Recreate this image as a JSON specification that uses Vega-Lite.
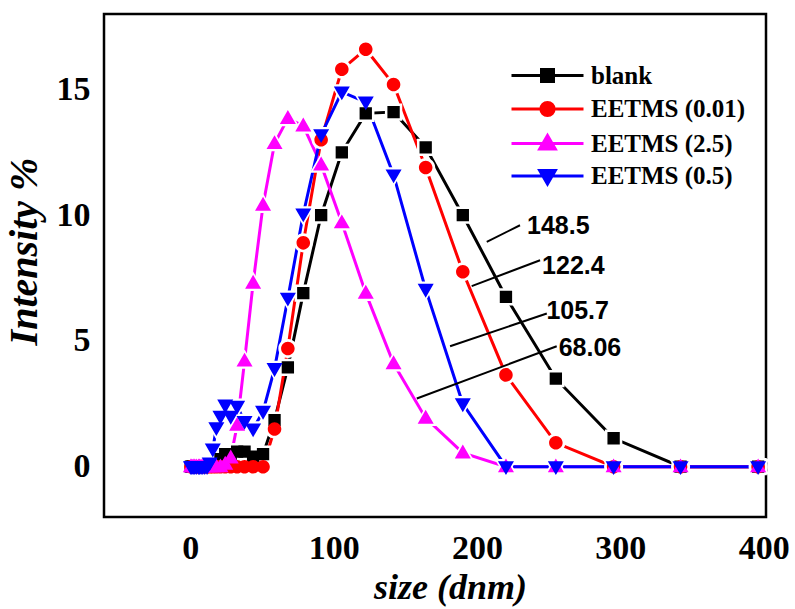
{
  "$schema": "https://vega.github.io/schema/vega-lite/v6.json",
  "width": 662,
  "height": 503,
  "autosize": "none",
  "padding": {"left": 104, "top": 14, "right": 29, "bottom": 92},
  "background": "white",
  "config": {
    "view": {"stroke": "black", "strokeWidth": 2.5},
    "axis": {"grid": false, "ticks": false, "domain": false, "labelColor": "black", "titleColor": "black"},
    "legend": {
      "orient": "none", "legendX": 431, "legendY": 49, "padding": 0,
      "labelFont": "Liberation Serif", "labelFontWeight": "bold", "labelFontSize": 25, "labelColor": "black",
      "labelLimit": 400, "labelOffset": 31, "rowPadding": 6.5, "symbolSize": 144, "symbolStrokeWidth": 3, "symbolOpacity": 1
    }
  },
  "datasets": {
    "dls": [
      {"series": "blank", "size": 0.4, "intensity": 0},
      {"series": "blank", "size": 1.117, "intensity": 0},
      {"series": "blank", "size": 2.01, "intensity": 0},
      {"series": "blank", "size": 3.122, "intensity": 0},
      {"series": "blank", "size": 4.187, "intensity": 0},
      {"series": "blank", "size": 5.615, "intensity": 0},
      {"series": "blank", "size": 6.503, "intensity": 0},
      {"series": "blank", "size": 7.531, "intensity": 0},
      {"series": "blank", "size": 8.721, "intensity": 0},
      {"series": "blank", "size": 10.1, "intensity": 0},
      {"series": "blank", "size": 11.7, "intensity": 0},
      {"series": "blank", "size": 13.54, "intensity": 0},
      {"series": "blank", "size": 15.69, "intensity": 0},
      {"series": "blank", "size": 18.17, "intensity": 0.1},
      {"series": "blank", "size": 21.04, "intensity": 0.3},
      {"series": "blank", "size": 24.36, "intensity": 0.5},
      {"series": "blank", "size": 28.21, "intensity": 0.4},
      {"series": "blank", "size": 32.67, "intensity": 0.6},
      {"series": "blank", "size": 37.84, "intensity": 0.6},
      {"series": "blank", "size": 43.82, "intensity": 0.4},
      {"series": "blank", "size": 50.75, "intensity": 0.5},
      {"series": "blank", "size": 58.77, "intensity": 1.85},
      {"series": "blank", "size": 68.06, "intensity": 3.95},
      {"series": "blank", "size": 78.82, "intensity": 6.9},
      {"series": "blank", "size": 91.28, "intensity": 10.0},
      {"series": "blank", "size": 105.7, "intensity": 12.5},
      {"series": "blank", "size": 122.4, "intensity": 14.05},
      {"series": "blank", "size": 141.8, "intensity": 14.1},
      {"series": "blank", "size": 164.2, "intensity": 12.7},
      {"series": "blank", "size": 190.1, "intensity": 10.0},
      {"series": "blank", "size": 220.2, "intensity": 6.75},
      {"series": "blank", "size": 255, "intensity": 3.5},
      {"series": "blank", "size": 295.3, "intensity": 1.13},
      {"series": "blank", "size": 342, "intensity": 0},
      {"series": "blank", "size": 396.1, "intensity": 0},

      {"series": "EETMS (0.01)", "size": 0.4, "intensity": 0},
      {"series": "EETMS (0.01)", "size": 1.117, "intensity": 0},
      {"series": "EETMS (0.01)", "size": 2.01, "intensity": 0},
      {"series": "EETMS (0.01)", "size": 3.122, "intensity": 0},
      {"series": "EETMS (0.01)", "size": 4.187, "intensity": 0},
      {"series": "EETMS (0.01)", "size": 5.615, "intensity": 0},
      {"series": "EETMS (0.01)", "size": 6.503, "intensity": 0},
      {"series": "EETMS (0.01)", "size": 7.531, "intensity": 0},
      {"series": "EETMS (0.01)", "size": 8.721, "intensity": 0},
      {"series": "EETMS (0.01)", "size": 10.1, "intensity": 0},
      {"series": "EETMS (0.01)", "size": 11.7, "intensity": 0},
      {"series": "EETMS (0.01)", "size": 13.54, "intensity": 0},
      {"series": "EETMS (0.01)", "size": 15.69, "intensity": 0},
      {"series": "EETMS (0.01)", "size": 18.17, "intensity": 0},
      {"series": "EETMS (0.01)", "size": 21.04, "intensity": 0},
      {"series": "EETMS (0.01)", "size": 24.36, "intensity": 0},
      {"series": "EETMS (0.01)", "size": 28.21, "intensity": 0},
      {"series": "EETMS (0.01)", "size": 32.67, "intensity": 0},
      {"series": "EETMS (0.01)", "size": 37.84, "intensity": 0},
      {"series": "EETMS (0.01)", "size": 43.82, "intensity": 0},
      {"series": "EETMS (0.01)", "size": 50.75, "intensity": 0},
      {"series": "EETMS (0.01)", "size": 58.77, "intensity": 1.5},
      {"series": "EETMS (0.01)", "size": 68.06, "intensity": 4.7},
      {"series": "EETMS (0.01)", "size": 78.82, "intensity": 8.9},
      {"series": "EETMS (0.01)", "size": 91.28, "intensity": 13.0},
      {"series": "EETMS (0.01)", "size": 105.7, "intensity": 15.8},
      {"series": "EETMS (0.01)", "size": 122.4, "intensity": 16.6},
      {"series": "EETMS (0.01)", "size": 141.8, "intensity": 15.2},
      {"series": "EETMS (0.01)", "size": 164.2, "intensity": 11.9},
      {"series": "EETMS (0.01)", "size": 190.1, "intensity": 7.75},
      {"series": "EETMS (0.01)", "size": 220.2, "intensity": 3.65},
      {"series": "EETMS (0.01)", "size": 255, "intensity": 0.95},
      {"series": "EETMS (0.01)", "size": 295.3, "intensity": 0},
      {"series": "EETMS (0.01)", "size": 342, "intensity": 0},
      {"series": "EETMS (0.01)", "size": 396.1, "intensity": 0},

      {"series": "EETMS (2.5)", "size": 0.4, "intensity": 0},
      {"series": "EETMS (2.5)", "size": 1.117, "intensity": 0},
      {"series": "EETMS (2.5)", "size": 2.01, "intensity": 0},
      {"series": "EETMS (2.5)", "size": 3.122, "intensity": 0},
      {"series": "EETMS (2.5)", "size": 4.187, "intensity": 0},
      {"series": "EETMS (2.5)", "size": 5.615, "intensity": 0},
      {"series": "EETMS (2.5)", "size": 6.503, "intensity": 0},
      {"series": "EETMS (2.5)", "size": 7.531, "intensity": 0},
      {"series": "EETMS (2.5)", "size": 8.721, "intensity": 0},
      {"series": "EETMS (2.5)", "size": 10.1, "intensity": 0},
      {"series": "EETMS (2.5)", "size": 11.7, "intensity": 0},
      {"series": "EETMS (2.5)", "size": 13.54, "intensity": 0},
      {"series": "EETMS (2.5)", "size": 15.69, "intensity": 0},
      {"series": "EETMS (2.5)", "size": 18.17, "intensity": 0},
      {"series": "EETMS (2.5)", "size": 21.04, "intensity": 0},
      {"series": "EETMS (2.5)", "size": 24.36, "intensity": 0.1},
      {"series": "EETMS (2.5)", "size": 28.21, "intensity": 0.35},
      {"series": "EETMS (2.5)", "size": 32.67, "intensity": 1.65},
      {"series": "EETMS (2.5)", "size": 37.84, "intensity": 4.2},
      {"series": "EETMS (2.5)", "size": 43.82, "intensity": 7.3},
      {"series": "EETMS (2.5)", "size": 50.75, "intensity": 10.4},
      {"series": "EETMS (2.5)", "size": 58.77, "intensity": 12.85},
      {"series": "EETMS (2.5)", "size": 68.06, "intensity": 13.85},
      {"series": "EETMS (2.5)", "size": 78.82, "intensity": 13.55},
      {"series": "EETMS (2.5)", "size": 91.28, "intensity": 12.0},
      {"series": "EETMS (2.5)", "size": 105.7, "intensity": 9.7},
      {"series": "EETMS (2.5)", "size": 122.4, "intensity": 6.9},
      {"series": "EETMS (2.5)", "size": 141.8, "intensity": 4.1},
      {"series": "EETMS (2.5)", "size": 164.2, "intensity": 1.93},
      {"series": "EETMS (2.5)", "size": 190.1, "intensity": 0.55},
      {"series": "EETMS (2.5)", "size": 220.2, "intensity": 0},
      {"series": "EETMS (2.5)", "size": 255, "intensity": 0},
      {"series": "EETMS (2.5)", "size": 295.3, "intensity": 0},
      {"series": "EETMS (2.5)", "size": 342, "intensity": 0},
      {"series": "EETMS (2.5)", "size": 396.1, "intensity": 0},

      {"series": "EETMS (0.5)", "size": 0.4, "intensity": 0},
      {"series": "EETMS (0.5)", "size": 1.117, "intensity": 0},
      {"series": "EETMS (0.5)", "size": 2.01, "intensity": 0},
      {"series": "EETMS (0.5)", "size": 3.122, "intensity": 0},
      {"series": "EETMS (0.5)", "size": 4.187, "intensity": 0},
      {"series": "EETMS (0.5)", "size": 5.615, "intensity": 0},
      {"series": "EETMS (0.5)", "size": 6.503, "intensity": 0},
      {"series": "EETMS (0.5)", "size": 7.531, "intensity": 0},
      {"series": "EETMS (0.5)", "size": 8.721, "intensity": 0},
      {"series": "EETMS (0.5)", "size": 10.1, "intensity": 0},
      {"series": "EETMS (0.5)", "size": 11.7, "intensity": 0},
      {"series": "EETMS (0.5)", "size": 13.54, "intensity": 0.15},
      {"series": "EETMS (0.5)", "size": 15.69, "intensity": 0.7},
      {"series": "EETMS (0.5)", "size": 18.17, "intensity": 1.55},
      {"series": "EETMS (0.5)", "size": 21.04, "intensity": 2.0},
      {"series": "EETMS (0.5)", "size": 24.36, "intensity": 2.45},
      {"series": "EETMS (0.5)", "size": 28.21, "intensity": 2.0},
      {"series": "EETMS (0.5)", "size": 32.67, "intensity": 2.4},
      {"series": "EETMS (0.5)", "size": 37.84, "intensity": 1.8},
      {"series": "EETMS (0.5)", "size": 43.82, "intensity": 1.5},
      {"series": "EETMS (0.5)", "size": 50.75, "intensity": 2.2},
      {"series": "EETMS (0.5)", "size": 58.77, "intensity": 3.9},
      {"series": "EETMS (0.5)", "size": 68.06, "intensity": 6.7},
      {"series": "EETMS (0.5)", "size": 78.82, "intensity": 10.05},
      {"series": "EETMS (0.5)", "size": 91.28, "intensity": 13.2},
      {"series": "EETMS (0.5)", "size": 105.7, "intensity": 14.9},
      {"series": "EETMS (0.5)", "size": 122.4, "intensity": 14.5},
      {"series": "EETMS (0.5)", "size": 141.8, "intensity": 11.6},
      {"series": "EETMS (0.5)", "size": 164.2, "intensity": 7.05},
      {"series": "EETMS (0.5)", "size": 190.1, "intensity": 2.5},
      {"series": "EETMS (0.5)", "size": 220.2, "intensity": 0},
      {"series": "EETMS (0.5)", "size": 255, "intensity": 0},
      {"series": "EETMS (0.5)", "size": 295.3, "intensity": 0},
      {"series": "EETMS (0.5)", "size": 342, "intensity": 0},
      {"series": "EETMS (0.5)", "size": 396.1, "intensity": 0}
    ],
    "notes": [
      {"label": "148.5", "x1": 206.8, "y1": 8.94, "x2": 230.0, "y2": 9.6, "tx": 233.5, "ty": 9.56},
      {"label": "122.4", "x1": 196.3, "y1": 7.18, "x2": 244.0, "y2": 8.21, "tx": 244.0, "ty": 7.97},
      {"label": "105.7", "x1": 181.2, "y1": 4.79, "x2": 248.7, "y2": 6.09, "tx": 247.0, "ty": 6.18},
      {"label": "68.06", "x1": 158.0, "y1": 2.71, "x2": 255.6, "y2": 4.79, "tx": 255.6, "ty": 4.73}
    ]
  },
  "layer": [
    {
      "data": {"name": "dls"},
      "mark": {"type": "line", "strokeWidth": 3},
      "encoding": {
        "x": {
          "field": "size", "type": "quantitative",
          "scale": {"domain": [-60.2, 401.6], "nice": false, "zero": false},
          "axis": {
            "values": [0, 100, 200, 300, 400], "labelFlush": false, "labelOverlap": false,
            "labelFont": "Liberation Serif", "labelFontWeight": "bold", "labelFontSize": 34, "labelPadding": 14,
            "title": "size (dnm)", "titleFont": "Liberation Serif", "titleFontStyle": "italic", "titleFontWeight": "bold",
            "titleFontSize": 36, "titlePadding": 5, "titleX": 346
          }
        },
        "y": {
          "field": "intensity", "type": "quantitative",
          "scale": {"domain": [-2.0, 18.0], "nice": false, "zero": false},
          "axis": {
            "values": [0, 5, 10, 15], "labelFlush": false, "labelOverlap": false,
            "labelFont": "Liberation Serif", "labelFontWeight": "bold", "labelFontSize": 34, "labelPadding": 14,
            "title": "Intensity %", "titleFont": "Liberation Serif", "titleFontStyle": "italic", "titleFontWeight": "bold",
            "titleFontSize": 40, "titlePadding": 12, "titleY": 237
          }
        },
        "stroke": {
          "field": "series", "type": "nominal", "title": null,
          "scale": {"domain": ["blank", "EETMS (0.01)", "EETMS (2.5)", "EETMS (0.5)"], "range": ["#000000", "#ff0000", "#ff00ff", "#0000ff"]}
        }
      }
    },
    {
      "data": {"name": "dls"},
      "mark": {"type": "point", "filled": true, "opacity": 1, "fill": "white", "strokeWidth": 0, "size": 300},
      "encoding": {
        "x": {"field": "size", "type": "quantitative"},
        "y": {"field": "intensity", "type": "quantitative"},
        "shape": {
          "field": "series", "type": "nominal", "title": null,
          "scale": {
            "domain": ["blank", "EETMS (0.01)", "EETMS (2.5)", "EETMS (0.5)"],
            "range": ["M-6,0H6M-1,-1H1V1H-1Z", "M-6,0H6M1.1,0A1.1,1.1,0,1,1,-1.1,0A1.1,1.1,0,1,1,1.1,0Z", "M-6,0H6M0,-1.35L1.3,0.9L-1.3,0.9Z", "M-6,0H6M0,1.35L1.3,-0.9L-1.3,-0.9Z"]
          }
        }
      }
    },
    {
      "data": {"name": "dls"},
      "mark": {"type": "point", "filled": true, "opacity": 1, "strokeWidth": 0, "size": 152},
      "encoding": {
        "x": {"field": "size", "type": "quantitative"},
        "y": {"field": "intensity", "type": "quantitative"},
        "fill": {
          "field": "series", "type": "nominal", "title": null,
          "scale": {"domain": ["blank", "EETMS (0.01)", "EETMS (2.5)", "EETMS (0.5)"], "range": ["#000000", "#ff0000", "#ff00ff", "#0000ff"]}
        },
        "stroke": {
          "field": "series", "type": "nominal", "title": null,
          "scale": {"domain": ["blank", "EETMS (0.01)", "EETMS (2.5)", "EETMS (0.5)"], "range": ["#000000", "#ff0000", "#ff00ff", "#0000ff"]}
        },
        "shape": {
          "field": "series", "type": "nominal", "title": null,
          "scale": {
            "domain": ["blank", "EETMS (0.01)", "EETMS (2.5)", "EETMS (0.5)"],
            "range": ["M-6,0H6M-1,-1H1V1H-1Z", "M-6,0H6M1.1,0A1.1,1.1,0,1,1,-1.1,0A1.1,1.1,0,1,1,1.1,0Z", "M-6,0H6M0,-1.35L1.3,0.9L-1.3,0.9Z", "M-6,0H6M0,1.35L1.3,-0.9L-1.3,-0.9Z"]
          }
        }
      }
    },
    {
      "data": {"name": "notes"},
      "mark": {"type": "rule", "color": "black", "strokeWidth": 2},
      "encoding": {
        "x": {"field": "x1", "type": "quantitative"},
        "y": {"field": "y1", "type": "quantitative"},
        "x2": {"field": "x2"},
        "y2": {"field": "y2"}
      }
    },
    {
      "data": {"name": "notes"},
      "mark": {"type": "text", "align": "left", "baseline": "middle", "dx": 2, "font": "Liberation Sans", "fontWeight": "bold", "fontSize": 25, "color": "black"},
      "encoding": {
        "x": {"field": "tx", "type": "quantitative"},
        "y": {"field": "ty", "type": "quantitative"},
        "text": {"field": "label"}
      }
    }
  ]
}
